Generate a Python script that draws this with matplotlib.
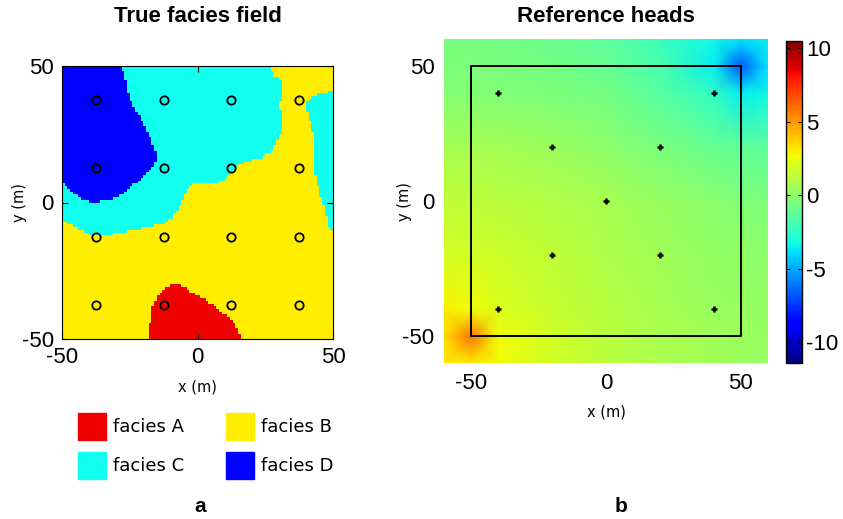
import numpy as np
import matplotlib
matplotlib.use('Agg')
import matplotlib.pyplot as plt
from matplotlib.colors import ListedColormap, Normalize
from matplotlib.path import Path
from matplotlib.patches import Patch

plt.rcParams['font.family'] = ['Liberation Sans', 'DejaVu Sans']
plt.rcParams['axes.unicode_minus'] = False

# ---- panel a: facies map, traced boundaries (m) ----
facies_names = ['facies A', 'facies B', 'facies C', 'facies D']
facies_colors = ['#EE0000', '#FFEE00', '#10FFEE', '#0000FF']
background_facies = 1  # facies B fills the rest

cyan_main_x = [-50, 26.6, 28.4, 30.5, 30.9, 30.3, 31.3, 29.7, 27.8, 24.1, 19.2, 15.5, 13.0, 10.6,
               8.1, 3.2, -1.7, -3.6, -4.8, -6.7, -9.1, -12.8, -17.7, -22.7, -27.6, -33.8, -38.7,
               -42.4, -46.1, -50]
cyan_main_y = [50, 50, 46.5, 44.7, 39.8, 36.1, 27.6, 23.3, 19.0, 16.6, 15.4, 14.1, 11.7, 9.3,
               7.4, 7.4, 6.8, 5.0, 1.9, -1.7, -5.4, -7.8, -9.0, -9.7, -10.9, -12.1, -12.1,
               -10.3, -8.4, -6.6]
cyan_right_x = [50, 44.2, 40.5, 40.2, 42.0, 43.0, 42.7, 43.0, 44.5, 46.0, 47.7, 48.3, 50]
cyan_right_y = [40.8, 40.0, 37.1, 33.8, 28.8, 23.0, 17.2, 11.7, 5.6, 0.8, -5.9, -9.3, -10.0]
blue_x = [-28.2, -26.4, -25.1, -22.1, -19.0, -16.5, -14.7, -16.5, -19.6, -23.9, -27.6, -32.5,
          -38.7, -43.6, -47.3, -50, -50]
blue_y = [50, 44.7, 38.6, 32.5, 27.6, 21.5, 16.6, 12.9, 9.9, 6.2, 3.2, 1.0,
          0.1, 1.9, 5.0, 7.4, 50]
red_x = [-18.3, -17.0, -15.0, -11.5, -8.4, -5.3, -1.6, 3.0, 6.7, 10.4, 13.8, 16.2]
red_y = [-50, -39.5, -34.3, -31.2, -29.6, -30.8, -33.3, -35.5, -38.1, -41.3, -44.7, -50]

well_x = [-37.5, -12.5, 12.5, 37.5]
well_y = [-37.5, -12.5, 12.5, 37.5]

# ---- panel b: reference heads ----
head_coords = [-60, -50, -40, -20, 0, 20, 40, 50, 60]
heads = [
    [3.0, 3.2, 2.7, 1.8, 1.2, 0.8, 0.5, 0.4, 0.3],
    [3.4, 5.8, 2.7, 1.8, 1.2, 0.8, 0.5, 0.4, 0.3],
    [2.9, 2.7, 2.1, 1.6, 1.1, 0.7, 0.4, 0.3, 0.2],
    [1.9, 1.8, 1.7, 1.4, 0.9, 0.5, 0.2, 0.1, 0.0],
    [1.4, 1.3, 1.2, 1.0, 0.7, 0.3, -0.1, -0.3, -0.4],
    [0.7, 0.6, 0.6, 0.4, 0.0, -0.5, -1.0, -1.2, -1.3],
    [-0.2, -0.2, -0.3, -0.4, -0.7, -1.4, -2.5, -3.6, -3.3],
    [-0.4, -0.4, -0.5, -0.7, -1.0, -1.8, -3.6, -6.8, -3.8],
    [-0.6, -0.6, -0.7, -0.9, -1.3, -2.1, -3.3, -3.8, -3.5],
]
head_clim = (-11.4, 10.5)
obs_x = [-40, 40, -20, 20, 0, -20, 20, -40, 40]
obs_y = [40, 40, 20, 20, 0, -20, -20, -40, -40]
domain = [-50, 50]

fig = plt.figure(figsize=(8.43, 5.19), dpi=100)
W, H = 843.0, 519.0

# rasterise the facies polygons on a 1 m grid
cells = np.arange(-49.5, 50, 1.0)
X, Y = np.meshgrid(cells, cells)
pts = np.column_stack([X.ravel(), Y.ravel()])
field = np.full(X.shape, background_facies)
for code, xs, ys in [(2, cyan_main_x, cyan_main_y), (2, cyan_right_x, cyan_right_y),
                     (3, blue_x, blue_y), (0, red_x, red_y)]:
    inside = Path(np.column_stack([xs, ys])).contains_points(pts).reshape(X.shape)
    field[inside] = code

ax1 = fig.add_axes([62 / W, 1 - 339 / H, 271 / W, 273 / H])
ax1.imshow(field, cmap=ListedColormap(facies_colors), vmin=-0.5, vmax=3.5, origin='lower',
           extent=(-50, 50, -50, 50), interpolation='nearest', aspect='auto')
wx, wy = np.meshgrid(well_x, well_y)
ax1.plot(wx.ravel(), wy.ravel(), 'o', mfc='none', mec='black', ms=6, mew=1.3, ls='none')
ax1.set_xlim(-50, 50)
ax1.set_ylim(-50, 50)
ax1.set_xticks([-50, 0, 50])
ax1.set_yticks([-50, 0, 50])
ax1.tick_params(direction='in', top=True, right=True, length=4, labelsize=16, pad=6)
ax1.set_xlabel('x (m)', family='DejaVu Sans', fontsize=10.5)
ax1.set_ylabel('y (m)', family='DejaVu Sans', fontsize=10.5)
ax1.xaxis.set_label_coords(0.5, -0.150)
ax1.yaxis.set_label_coords(-0.129, 0.5)

# panel b
ax2 = fig.add_axes([444.3 / W, 1 - 363.3 / H, 323.4 / W, 324 / H])
mesh = ax2.pcolormesh(head_coords, head_coords, np.array(heads), shading='gouraud',
                      cmap='jet', norm=Normalize(*head_clim))
ax2.plot([domain[0], domain[1], domain[1], domain[0], domain[0]],
         [domain[0], domain[0], domain[1], domain[1], domain[0]], color='black', lw=1.4)
ax2.plot(obs_x, obs_y, '+', color='black', ms=5, mew=1.8, ls='none')
ax2.set_xlim(-60, 60)
ax2.set_ylim(-60, 60)
ax2.set_xticks([-50, 0, 50])
ax2.set_yticks([-50, 0, 50])
for s in ax2.spines.values():
    s.set_visible(False)
ax2.tick_params(length=0, labelsize=16, pad=7)
ax2.set_xlabel('x (m)', family='DejaVu Sans', fontsize=10.5)
ax2.set_ylabel('y (m)', family='DejaVu Sans', fontsize=10.5)
ax2.xaxis.set_label_coords(0.5, -0.126)
ax2.yaxis.set_label_coords(-0.101, 0.5)

cax = fig.add_axes([786 / W, 1 - 362.7 / H, 15.7 / W, 322 / H])
cb = fig.colorbar(mesh, cax=cax, ticks=[-10, -5, 0, 5, 10])
cb.outline.set_linewidth(1.0)
cax.tick_params(direction='in', length=3, labelsize=16, left=True, right=True, pad=3)

fig.text(198 / W, 1 - 17 / H, 'True facies field', ha='center', va='center',
         fontsize=16, weight='bold')
fig.text(606 / W, 1 - 17 / H, 'Reference heads', ha='center', va='center',
         fontsize=16, weight='bold')

handles = [Patch(fc=facies_colors[i], ec=facies_colors[i]) for i in [0, 2, 1, 3]]
labels = [facies_names[i] for i in [0, 2, 1, 3]]
fig.legend(handles, labels, ncol=2, loc='upper left', bbox_to_anchor=(78 / W, 1 - 412.7 / H),
           frameon=False, prop={'family': 'DejaVu Sans', 'size': 13}, handlelength=1.55,
           handleheight=1.92, handletextpad=0.39, labelspacing=0.66, columnspacing=2.32,
           borderpad=0, borderaxespad=0)

fig.text(200 / W, 1 - 506 / H, 'a', ha='center', va='center', fontsize=15, weight='bold')
fig.text(621 / W, 1 - 506 / H, 'b', ha='center', va='center', fontsize=15, weight='bold')

fig.savefig('out.png', dpi=100)
